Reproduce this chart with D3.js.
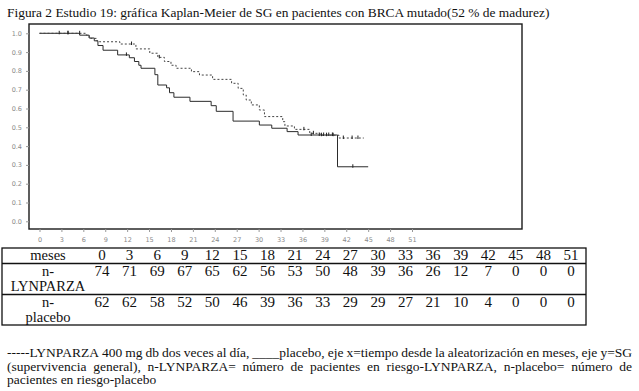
<!DOCTYPE html>
<html>
  <head>
    <meta charset="utf-8">
    <title>Kaplan-Meier SG BRCA</title>
    <script src="https://cdn.jsdelivr.net/npm/d3@7/dist/d3.min.js" charset="utf-8"></script>
<style>
body { margin: 0; background: #fff; }
</style>
  </head>
  <body>
    <svg></svg>
    <script>
      var width = 639;
      var height = 391;
      var SERIF = "'Liberation Serif', 'Times New Roman', serif";

      var titleText = "Figura 2 Estudio 19: gráfica Kaplan-Meier de SG en pacientes con BRCA mutado(52 % de madurez)";
      var xTicks = [0, 3, 6, 9, 12, 15, 18, 21, 24, 27, 30, 33, 36, 39, 42, 45, 48, 51];
      var yTicks = [0.0, 0.1, 0.2, 0.3, 0.4, 0.5, 0.6, 0.7, 0.8, 0.9, 1.0];

      // LYNPARZA (dashed): [month, survival]
      var lynparza = [
        [0, 1.0], [6.4, 0.99], [6.8, 0.973], [7.8, 0.96], [8.2, 0.955], [11, 0.943],
        [13.2, 0.917], [15.1, 0.894], [16.2, 0.872], [17.1, 0.85], [18, 0.83],
        [18.7, 0.814], [20.8, 0.796], [21.9, 0.778], [23.7, 0.755], [26.3, 0.734],
        [27.2, 0.707], [27.9, 0.672], [28.3, 0.645], [29, 0.619], [30.1, 0.592],
        [30.8, 0.557], [33.3, 0.53], [33.6, 0.507], [34.9, 0.489], [37, 0.468],
        [38.4, 0.458], [41, 0.443], [44.4, 0.443]
      ];
      // placebo (solid)
      var placebo = [
        [0, 1.0], [5.5, 0.99], [6.8, 0.975], [7.5, 0.96], [8.0, 0.935], [8.7, 0.91],
        [10.7, 0.885], [12.3, 0.87], [13.0, 0.85], [13.6, 0.83], [13.9, 0.814],
        [15.8, 0.78], [16.2, 0.725], [17.4, 0.71], [17.8, 0.684], [18.4, 0.66],
        [20.6, 0.638], [23.5, 0.615], [24.2, 0.585], [26.5, 0.533], [30.1, 0.512],
        [31.8, 0.495], [33.9, 0.477], [35.4, 0.459], [40.8, 0.29], [45, 0.29]
      ];
      var lynparzaCensored = [3.9, 5.5, 12.6, 16.4, 36.2, 37.5, 38.6, 39.3, 40.2, 41.6, 42.8, 43.6];
      var placeboCensored = [2.7, 3.9, 11.9, 37.2, 38.3, 38.9, 39.6, 40.1, 42.9];

      var tableMonths = [0, 3, 6, 9, 12, 15, 18, 21, 24, 27, 30, 33, 36, 39, 42, 45, 48, 51];
      var atRiskLynparza = [74, 71, 69, 67, 65, 62, 56, 53, 50, 48, 39, 36, 26, 12, 7, 0, 0, 0];
      var atRiskPlacebo = [62, 62, 58, 52, 50, 46, 39, 36, 33, 29, 29, 27, 21, 10, 4, 0, 0, 0];

      var captionLines = [
        "-----LYNPARZA 400 mg db dos veces al día, ____placebo, eje x=tiempo desde la aleatorización en meses, eje y=SG",
        "(supervivencia general), n-LYNPARZA= número de pacientes en riesgo-LYNPARZA, n-placebo= número de",
        "pacientes en riesgo-placebo"
      ];

      var svg = d3.select("svg").attr("width", width).attr("height", height);

      function serifText(sel, size) {
        return sel.style("font-family", SERIF).style("font-size", size + "px").attr("fill", "#111");
      }

      // title
      var title = serifText(svg.append("text"), 13).attr("x", 7).attr("y", 17).text(titleText);
      var tl = title.node().getComputedTextLength();
      title.style("font-size", (13 * 543 / tl) + "px");

      // plot frame
      var frame = {left: 29, right: 522, top: 24, bottom: 229};
      var x = d3.scaleLinear().domain([0, 51]).range([39.5, 412]);
      var y = d3.scaleLinear().domain([0, 1]).range([221.3, 33.3]);

      svg.append("rect")
          .attr("x", frame.left).attr("y", frame.top)
          .attr("width", frame.right - frame.left).attr("height", frame.bottom - frame.top)
          .attr("fill", "none").attr("stroke", "#1a1a1a").attr("stroke-width", 1.4);

      var xAxis = svg.append("g").attr("transform", "translate(0," + frame.bottom + ")")
          .call(d3.axisBottom(x).tickValues(xTicks).tickSize(3).tickFormat(d3.format("d")));
      var yAxis = svg.append("g").attr("transform", "translate(" + frame.left + ",0)")
          .call(d3.axisLeft(y).tickValues(yTicks).tickSize(3).tickFormat(d3.format(".1f")));
      [xAxis, yAxis].forEach(function(ax){
        ax.select(".domain").remove();
        ax.attr("font-family", "'DejaVu Sans', sans-serif").attr("font-size", 6.5);
        ax.selectAll("line").attr("stroke", "#999");
        ax.selectAll("text").attr("fill", "#8a8a8a");
      });
      xAxis.selectAll("text").attr("dy", null).attr("y", 12.5);
      yAxis.selectAll("text").attr("x", -7);

      var line = d3.line().x(function(d){ return x(d[0]); }).y(function(d){ return y(d[1]); })
          .curve(d3.curveStepAfter);

      svg.append("path").datum(placebo).attr("d", line)
          .attr("fill", "none").attr("stroke", "#2b2b2b").attr("stroke-width", 1);
      svg.append("path").datum(lynparza).attr("d", line)
          .attr("fill", "none").attr("stroke", "#444").attr("stroke-width", 1)
          .attr("stroke-dasharray", "2,2");

      function survAt(series, t) {
        var v = series[0][1];
        series.forEach(function(p){ if (p[0] <= t) v = p[1]; });
        return v;
      }
      function censor(times, series, color) {
        svg.append("g").selectAll("line").data(times).enter().append("line")
            .attr("x1", function(d){ return x(d); }).attr("x2", function(d){ return x(d); })
            .attr("y1", function(d){ return y(survAt(series, d)) - 2.5; })
            .attr("y2", function(d){ return y(survAt(series, d)) + 1; })
            .attr("stroke", color).attr("stroke-width", 1);
      }
      censor(placeboCensored, placebo, "#222");
      censor(lynparzaCensored, lynparza, "#222");

      // at-risk table
      var table = {left: 2, right: 586, top: 248, r1: 263.5, r2: 294.5, bottom: 325};
      var col = d3.scaleLinear().domain([0, 51]).range([102, 571]);
      svg.append("rect").attr("x", table.left).attr("y", table.top)
          .attr("width", table.right - table.left).attr("height", table.bottom - table.top)
          .attr("fill", "none").attr("stroke", "#111").attr("stroke-width", 1.3);
      [table.r1, table.r2].forEach(function(yy){
        svg.append("line").attr("x1", table.left).attr("x2", table.right)
            .attr("y1", yy).attr("y2", yy).attr("stroke", "#111").attr("stroke-width", 1.3);
      });

      var rowLabels = [
        {lines: ["meses"], ys: [260]},
        {lines: ["n-", "LYNPARZA"], ys: [276, 291]},
        {lines: ["n-", "placebo"], ys: [307, 322]}
      ];
      rowLabels.forEach(function(r){
        r.lines.forEach(function(t, i){
          serifText(svg.append("text"), 14.5).attr("x", 48).attr("y", r.ys[i])
              .attr("text-anchor", "middle").text(t);
        });
      });

      var rows = [
        {values: tableMonths, y: 260},
        {values: atRiskLynparza, y: 276},
        {values: atRiskPlacebo, y: 307}
      ];
      rows.forEach(function(r){
        serifText(svg.append("g").selectAll("text").data(r.values).enter().append("text"), 15)
            .attr("x", function(d, i){ return col(tableMonths[i]); })
            .attr("y", r.y).attr("text-anchor", "middle")
            .text(function(d){ return d; });
      });

      // caption, justified lines
      var capLeft = 7, capRight = 632, capYs = [357, 370.5, 384];
      captionLines.forEach(function(txt, li){
        var words = txt.split(" ");
        var g = svg.append("g");
        var nodes = words.map(function(w){
          return serifText(g.append("text"), 13.5).attr("y", capYs[li]).text(w);
        });
        var widths = nodes.map(function(n){ return n.node().getComputedTextLength(); });
        var total = d3.sum(widths);
        var gap = (li < 2) ? (capRight - capLeft - total) / (words.length - 1) : 3.4;
        var cx = capLeft;
        nodes.forEach(function(n, i){
          n.attr("x", cx);
          cx += widths[i] + gap;
        });
      });
    </script>
  </body>
</html>
